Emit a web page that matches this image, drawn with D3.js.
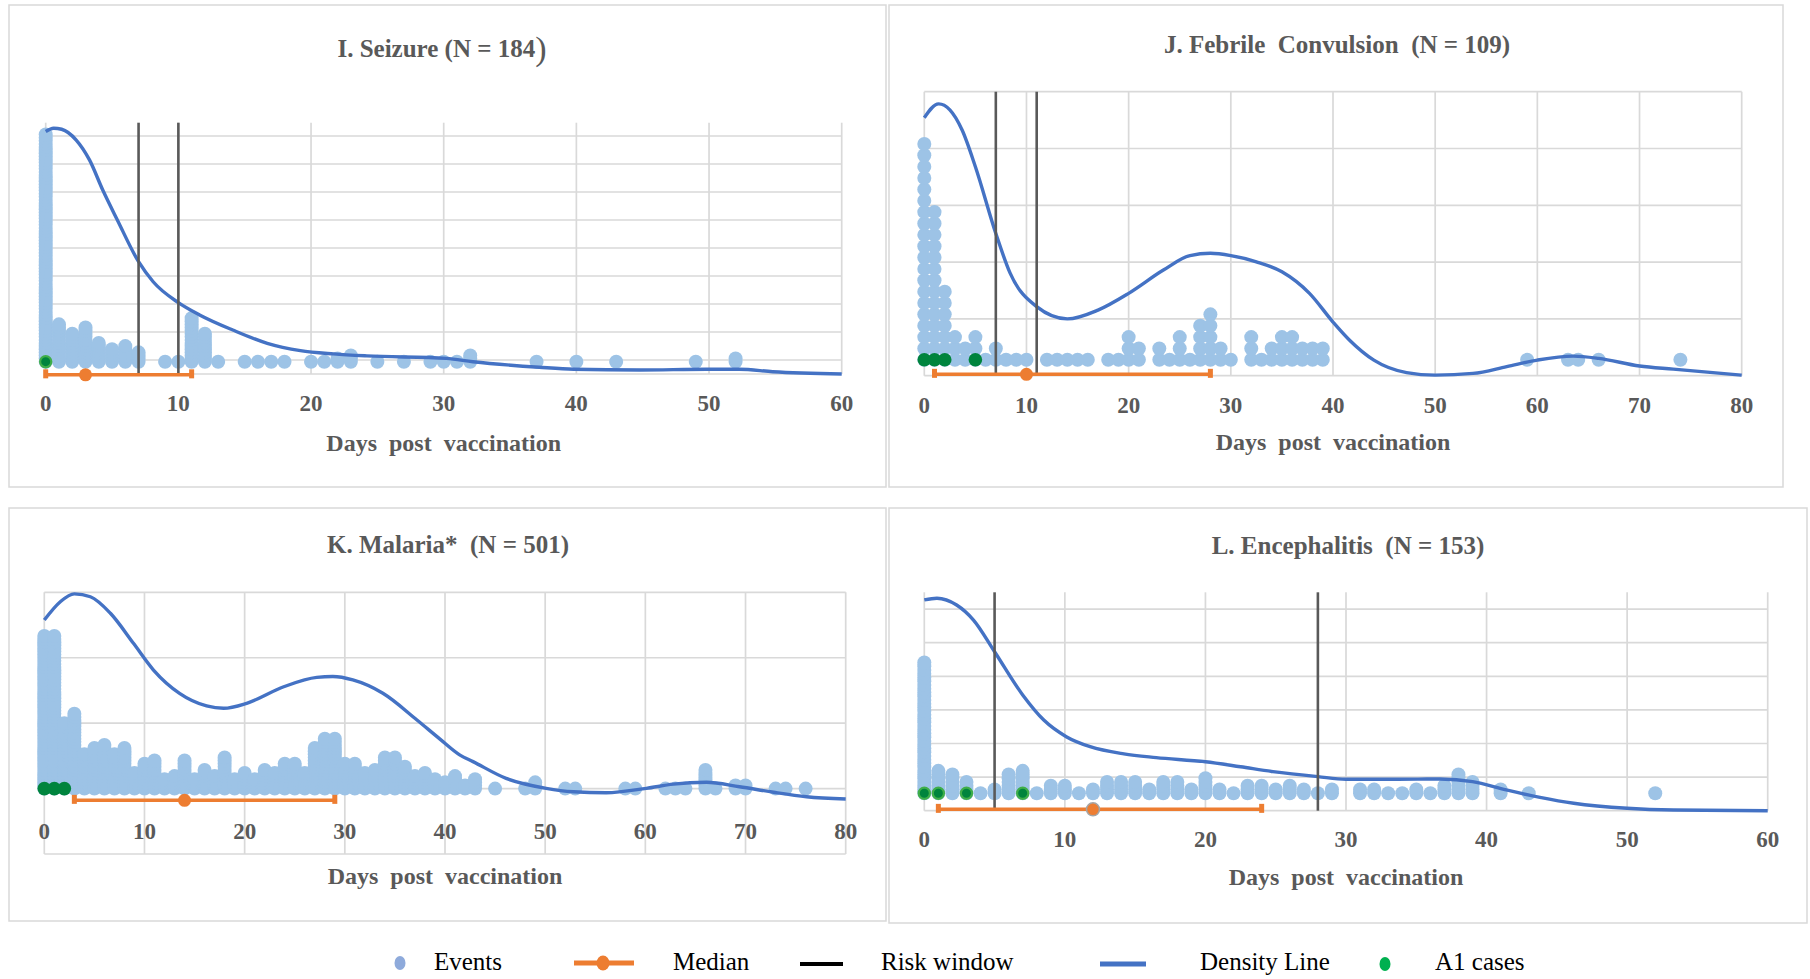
<!DOCTYPE html>
<html>
<head>
<meta charset="utf-8">
<script src="https://cdn.jsdelivr.net/npm/d3@7"></script>
<style>
body { margin: 0; background: #fff; }
text { font-family: "Liberation Serif", "Times New Roman", serif; white-space: pre; }
</style>
</head>
<body>
<script>
var width = 1810,
    height = 979;

// ---- data ----
// I. Seizure
var seizureDays   = [0,1,2,3,4,5,6,7,9,10,11,12,13,15,16,17,18,20,21,22,23,25,27,29,30,31,32,37,40,43,49,52];
var seizureCounts = [74,13,10,12,7,5,6,4,1,1,15,10,1,1,1,1,1,1,1,2,3,1,1,1,1,1,3,1,1,1,1,2];
var seizureA1 = [0];
var seizureMedian = [0, 3, 11];      // low, median, high
var seizureRisk = [7, 10];
var seizureDensityDays = [0,0.6,1.2,2.3,3.3,4.3,5.4,7,8.1,10,11.6,14.1,16.7,19.2,21.7,24.2,30.2,32.2,37.2,39.8,44.8,49.8,52.3,54.8,60];
var seizureDensity     = [0.965,0.978,0.974,0.931,0.852,0.732,0.613,0.447,0.367,0.284,0.235,0.175,0.122,0.093,0.080,0.072,0.062,0.049,0.027,0.019,0.016,0.019,0.019,0.009,0];

// J. Febrile convulsion
var febrileDays   = [0,1,2,3,4,5,6,7,8,9,10,12,13,14,15,16,18,19,20,21,23,24,25,26,27,28,29,30,32,33,34,35,36,37,38,39,59,63,64,66,74];
var febrileCounts = [20,14,7,3,2,3,1,2,1,1,1,1,1,1,1,1,1,1,3,2,2,1,3,1,4,5,2,1,3,1,2,3,3,2,2,2,1,1,1,1,1];
var febrileA1 = [0, 1, 2, 5];
var febrileMedian = [1, 10, 28];
var febrileRisk = [7, 11];
var febrileDensityDays = [0,1.4,2.5,3.7,5,7,8.4,11,14,17,20,23.4,26,28,30,32.5,35,37.7,40,41.6,44,47.2,50,53.7,57,60,63.5,66,70,73.3,80];
var febrileDensity     = [0.908,0.957,0.936,0.865,0.736,0.501,0.361,0.243,0.200,0.231,0.290,0.372,0.423,0.431,0.423,0.401,0.366,0.290,0.189,0.126,0.055,0.011,0.002,0.008,0.032,0.055,0.069,0.061,0.034,0.023,0.002];

// K. Malaria
var malariaDays   = [0,1,2,3,4,5,6,7,8,9,10,11,12,13,14,15,16,17,18,19,20,21,22,23,24,25,26,27,28,29,30,31,32,33,34,35,36,37,38,39,40,41,42,43,45,48,49,52,53,58,59,62,63,64,66,67,69,70,73,74,76];
var malariaCounts = [50,50,22,25,12,14,15,12,14,6,9,10,4,5,10,4,7,5,11,4,6,4,7,6,9,9,6,14,17,17,9,9,6,7,11,11,8,5,6,4,3,5,2,4,1,1,3,1,1,1,1,1,1,1,7,1,2,2,1,1,1];
var malariaA1 = [0, 1, 2];
var malariaMedian = [3, 14, 29];
var malariaRisk = [];
var malariaDensityDays = [0,1.6,3,4.6,6.6,8.9,10.9,13.5,16.2,17.9,20.2,23.9,27.2,28.8,30.8,33.8,37.2,39.5,41.5,42.8,46.1,50.1,52.8,56.1,60.1,62.8,66.1,69.4,72.8,76.1,80];
var malariaDensity     = [0.894,0.964,0.994,0.983,0.920,0.805,0.703,0.614,0.566,0.557,0.576,0.639,0.675,0.678,0.665,0.614,0.512,0.439,0.378,0.353,0.289,0.251,0.238,0.234,0.251,0.267,0.274,0.257,0.236,0.219,0.210];

// L. Encephalitis
var encephDays   = [0,1,2,3,4,5,6,7,8,9,10,11,12,13,14,15,16,17,18,19,20,21,22,23,24,25,26,27,28,29,31,32,33,34,35,36,37,38,39,41,43,52];
var encephCounts = [36,7,6,4,1,2,6,7,1,3,3,1,2,4,4,4,2,4,4,2,5,2,1,3,3,2,3,2,1,2,2,2,1,1,2,1,3,6,4,2,1,1];
var encephA1 = [0, 1, 3, 7];
var encephMedian = [1, 12, 24];
var encephRisk = [5, 28];
var encephDensityDays = [0,0.9,2.3,3.5,5,7,8.5,10.1,11.8,14.2,16.5,20,22.5,24.8,28,30,33,36.7,39,41.4,43.8,46.2,50,53.3,60];
var encephDensity     = [0.965,0.973,0.942,0.873,0.728,0.530,0.415,0.339,0.293,0.260,0.243,0.224,0.201,0.179,0.156,0.144,0.144,0.145,0.133,0.095,0.061,0.034,0.011,0.003,0];

var titles = ["I. Seizure (N = 184", "J. Febrile  Convulsion  (N = 109)", "K. Malaria*  (N = 501)", "L. Encephalitis  (N = 153)"];
var xTitle = "Days  post  vaccination";
var legendLabels = ["Events", "Median", "Risk window", "Density Line", "A1 cases"];

// ---- layout (pixels) per panel ----
var panels = [
  {title: titles[0], days: seizureDays, counts: seizureCounts, a1: seizureA1, median: seizureMedian, risk: seizureRisk,
   dDays: seizureDensityDays, dens: seizureDensity, xMax: 60,
   box: [9, 5, 886, 487], x0: 45.7, x1: 841.7, top: 122.7, bottom: 374,
   yDom: [-0.5, 8.475], yGrid: [0, 1, 2, 3, 4, 5, 6, 7, 8],
   dotBase: -0.06, dotStep: 1/9, medY: -0.53, tickY: 403, xTitleY: 443, titleX: 442, titleY: 48, a1Ring: true},
  {title: titles[1], days: febrileDays, counts: febrileCounts, a1: febrileA1, median: febrileMedian, risk: febrileRisk,
   dDays: febrileDensityDays, dens: febrileDensity, xMax: 80,
   box: [889, 5, 1783, 487], x0: 924.3, x1: 1741.7, top: 91.7, bottom: 375.7,
   yDom: [0, 25], yGrid: [0, 5, 10, 15, 20, 25],
   dotBase: 1.4, dotStep: 1, medY: 0.12, tickY: 405, xTitleY: 442, titleX: 1337, titleY: 44, a1Ring: false},
  {title: titles[2], days: malariaDays, counts: malariaCounts, a1: malariaA1, median: malariaMedian, risk: malariaRisk,
   dDays: malariaDensityDays, dens: malariaDensity, xMax: 80,
   box: [9, 508, 886, 921], x0: 44.3, x1: 845.7, top: 592.3, bottom: 854,
   yDom: [-1, 3], yGrid: [-1, 0, 1, 2, 3],
   dotBase: 0, dotStep: 1/21, medY: -0.18, tickY: 831, xTitleY: 876, titleX: 448, titleY: 544, a1Ring: false},
  {title: titles[3], days: encephDays, counts: encephCounts, a1: encephA1, median: encephMedian, risk: encephRisk,
   dDays: encephDensityDays, dens: encephDensity, xMax: 60,
   box: [889, 508, 1807, 923], x0: 924.3, x1: 1767.7, top: 592.3, bottom: 810.7,
   yDom: [0, 6.5], yGrid: [0, 1, 2, 3, 4, 5, 6],
   dotBase: 0.52, dotStep: 1/9, medY: 0.04, tickY: 839, xTitleY: 877, titleX: 1348, titleY: 545, a1Ring: true, medRing: true}
];

var grey = "#595959",
    gridCol = "#d9d9d9",
    dotCol = "#9dc3e6",
    blue = "#4472c4",
    orange = "#ed7d31";

var svg = d3.select("body").append("svg")
    .attr("width", width)
    .attr("height", height);

panels.forEach(function(p) {
  var g = svg.append("g");
  var x = d3.scaleLinear().domain([0, p.xMax]).range([p.x0, p.x1]);
  var y = d3.scaleLinear().domain(p.yDom).range([p.bottom, p.top]);
  var yd = d3.scaleLinear().domain([0, 1]).range([p.bottom, p.top]);

  // frame
  g.append("rect")
      .attr("x", p.box[0]).attr("y", p.box[1])
      .attr("width", p.box[2] - p.box[0]).attr("height", p.box[3] - p.box[1])
      .attr("fill", "none").attr("stroke", gridCol).attr("stroke-width", 1.5);

  // grid
  var xt = d3.range(0, p.xMax + 1, 10);
  g.selectAll(".vg").data(xt).enter().append("line")
      .attr("x1", function(d) { return x(d); }).attr("x2", function(d) { return x(d); })
      .attr("y1", p.top).attr("y2", p.bottom)
      .attr("stroke", gridCol).attr("stroke-width", 1.7);
  var hg = Array.from(new Set(p.yGrid.concat([p.yDom[0]])));
  g.selectAll(".hg").data(hg).enter().append("line")
      .attr("x1", p.x0).attr("x2", p.x1)
      .attr("y1", function(d) { return y(d); }).attr("y2", function(d) { return y(d); })
      .attr("stroke", gridCol).attr("stroke-width", 1.7);

  // tick labels
  g.selectAll(".tl").data(xt).enter().append("text")
      .attr("x", function(d) { return x(d); })
      .attr("y", p.tickY)
      .attr("text-anchor", "middle").attr("dominant-baseline", "central")
      .attr("font-size", 23).attr("font-weight", "bold").attr("fill", grey)
      .text(function(d) { return d; });

  // stacked event dots
  var dots = [];
  p.days.forEach(function(day, i) {
    for (var k = 0; k < p.counts[i]; k++) dots.push({day: day, level: p.dotBase + k * p.dotStep});
  });
  g.selectAll(".dot").data(dots).enter().append("circle")
      .attr("cx", function(d) { return x(d.day); })
      .attr("cy", function(d) { return y(d.level); })
      .attr("r", 7)
      .attr("fill", dotCol);

  // A1 cases
  g.selectAll(".a1").data(p.a1).enter().append("circle")
      .attr("cx", function(d) { return x(d); })
      .attr("cy", y(p.dotBase))
      .attr("r", p.a1Ring ? 5.6 : 6.8)
      .attr("fill", "#00843d")
      .attr("stroke", p.a1Ring ? "#3fae49" : "none")
      .attr("stroke-width", 2.2);

  // density line
  var line = d3.line()
      .x(function(d) { return x(d[0]); })
      .y(function(d) { return yd(d[1]); })
      .curve(d3.curveMonotoneX);
  g.append("path")
      .datum(d3.zip(p.dDays, p.dens))
      .attr("d", line)
      .attr("fill", "none").attr("stroke", blue).attr("stroke-width", 3.4);

  // risk window
  g.selectAll(".rw").data(p.risk).enter().append("line")
      .attr("x1", function(d) { return x(d); }).attr("x2", function(d) { return x(d); })
      .attr("y1", p.top).attr("y2", p.bottom)
      .attr("stroke", grey).attr("stroke-width", 2.6);

  // median with range
  var my = y(p.medY);
  g.append("line")
      .attr("x1", x(p.median[0])).attr("x2", x(p.median[2]))
      .attr("y1", my).attr("y2", my)
      .attr("stroke", orange).attr("stroke-width", 3.5);
  g.selectAll(".cap").data([p.median[0], p.median[2]]).enter().append("rect")
      .attr("x", function(d) { return x(d) - 2.5; })
      .attr("y", my - 5.5)
      .attr("width", 5).attr("height", 9)
      .attr("fill", orange);
  g.append("circle")
      .attr("cx", x(p.median[1])).attr("cy", my)
      .attr("r", 6.5)
      .attr("fill", orange)
      .attr("stroke", p.medRing ? "#a5a5a5" : "none").attr("stroke-width", 1.5);

  // titles
  var t = g.append("text")
      .attr("x", p.titleX).attr("y", p.titleY)
      .attr("text-anchor", "middle").attr("dominant-baseline", "central")
      .attr("font-size", 25).attr("font-weight", "bold").attr("fill", grey)
      .text(p.title);
  if (p.title.slice(-1) !== ")") t.append("tspan").attr("font-size", 34).attr("font-weight", "normal").text(")");

  g.append("text")
      .attr("x", (p.x0 + p.x1) / 2).attr("y", p.xTitleY)
      .attr("text-anchor", "middle").attr("dominant-baseline", "central")
      .attr("font-size", 24).attr("font-weight", "bold").attr("fill", grey)
      .text(xTitle);
});

// ---- legend ----
var lg = svg.append("g").attr("transform", "translate(0,962)");
var fs = 25;
lg.append("ellipse").attr("cx", 400).attr("cy", 1).attr("rx", 5.5).attr("ry", 7).attr("fill", "#8eaadb");
lg.append("line").attr("x1", 574).attr("x2", 634).attr("y1", 1).attr("y2", 1).attr("stroke", orange).attr("stroke-width", 5);
lg.append("ellipse").attr("cx", 603).attr("cy", 1).attr("rx", 6.5).attr("ry", 7.5).attr("fill", orange);
lg.append("line").attr("x1", 800).attr("x2", 843).attr("y1", 2).attr("y2", 2).attr("stroke", "#000").attr("stroke-width", 4);
lg.append("line").attr("x1", 1100).attr("x2", 1146).attr("y1", 2).attr("y2", 2).attr("stroke", blue).attr("stroke-width", 5);
lg.append("ellipse").attr("cx", 1385).attr("cy", 2).attr("rx", 5.5).attr("ry", 7).attr("fill", "#00b050");
var lx = [434, 673, 881, 1200, 1435];
lg.selectAll("text").data(legendLabels).enter().append("text")
    .attr("x", function(d, i) { return lx[i]; })
    .attr("y", -1)
    .attr("dominant-baseline", "central")
    .attr("font-size", fs).attr("fill", "#000")
    .text(function(d) { return d; });
</script>
</body>
</html>
